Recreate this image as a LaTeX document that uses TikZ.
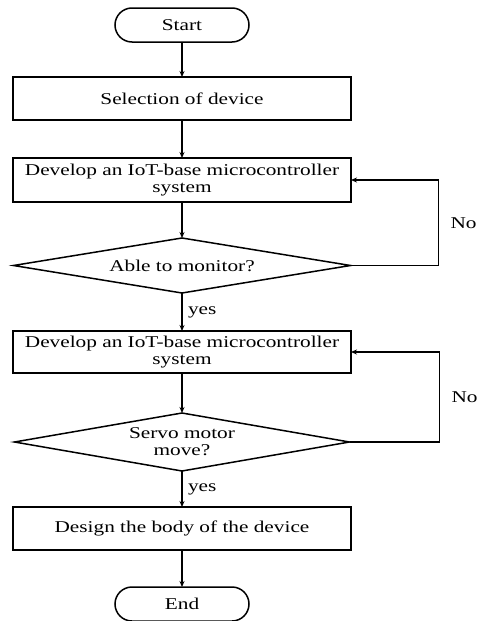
\documentclass[tikz,border=0pt]{standalone}
\usepackage{fontspec}
\setmainfont{Liberation Serif}[FakeStretch=1.29]
\usepackage{tikz}
\usetikzlibrary{shapes.geometric, arrows.meta, positioning}
\tikzstyle{startstop} = [rectangle, rounded corners=17pt,
  draw=black, line width=1.5pt, text=black, outer sep=0pt,
  align=center, inner sep=3pt, minimum width=134pt, minimum height=34pt]
\tikzstyle{process} = [rectangle,
  draw=black, line width=1.7pt, text=black, outer sep=0pt,
  align=center, inner sep=4pt, minimum width=338pt, minimum height=43pt]
\tikzstyle{decision} = [diamond, aspect=6,
  draw=black, line width=1.5pt, text=black, outer sep=0pt,
  align=center, inner sep=0pt]
\tikzstyle{arrow} = [-{Stealth[length=6pt, width=5pt]}, color=black, line width=1.4pt]

\begin{document}
\begin{tikzpicture}[x=1pt, y=-1pt, node distance=37pt,
  font=\fontsize{16.5pt}{17pt}\selectfont]

  \useasboundingbox (0,0) rectangle (477,621);

  \node[startstop] (start) at (182,25) {Start};

  \node[process, below=35pt of start] (select) {Selection of device};

  \node[process, below=38pt of select, minimum height=44pt] (dev1)
    {Develop an IoT-base microcontroller\\system};

  \node[decision, below=36pt of dev1, minimum width=337pt, minimum height=55pt] (monitor)
    {Able to monitor?};

  \node[process, below=38pt of monitor, minimum height=42pt] (dev2)
    {Develop an IoT-base microcontroller\\system};

  \node[decision, below=40pt of dev2, minimum width=335pt, minimum height=58pt] (servo)
    {Servo motor\\move?};

  \node[process, below=36pt of servo] (body) {Design the body of the device};

  \node[startstop, below=37pt of body] (stop) {End};

  % Main flow
  \draw[arrow] (start)   -- (select);
  \draw[arrow] (select)  -- (dev1);
  \draw[arrow] (dev1)    -- (monitor);
  \draw[arrow] (monitor) -- node[right=2pt] {yes} (dev2);
  \draw[arrow] (dev2)    -- (servo);
  \draw[arrow] (servo)   -- node[right=2pt] {yes} (body);
  \draw[arrow] (body)    -- (stop);

  % Retry loops (offset to the right)
  \draw[arrow] (monitor.east) -- ++(88,0) |- node[pos=0.25, right=8pt] {No} (dev1.east);
  \draw[arrow] (servo.east) -- ++(90,0) |- node[pos=0.25, right=8pt] {No} (dev2.east);

\end{tikzpicture}
\end{document}
